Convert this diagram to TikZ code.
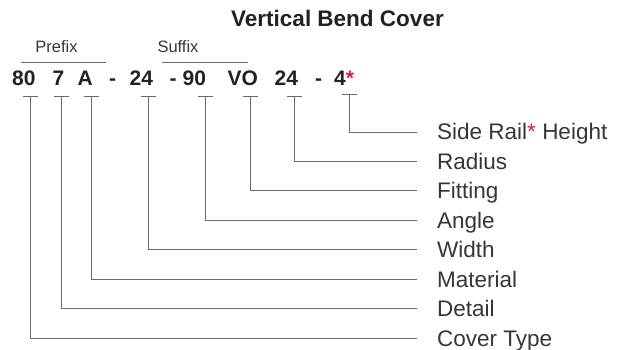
\documentclass[tikz,border=0pt]{standalone}
\usepackage{fontspec}
\setmainfont{Liberation Sans}
\usepackage{tikz}
\definecolor{inkdark}{HTML}{222222}
\definecolor{labelgray}{HTML}{363636}
\definecolor{linegray}{HTML}{6A6A6A}
\definecolor{starred}{HTML}{D81B4F}

\begin{document}
\begin{tikzpicture}[x=1pt,y=-1pt,
  code/.style={anchor=base west,inner sep=0,text=inkdark,font=\bfseries\fontsize{21}{21}\selectfont},
  part/.style={anchor=base,inner sep=0,text=labelgray,font=\fontsize{16.5}{16.5}\selectfont},
  lbl/.style={anchor=west,inner sep=0,text height=16pt,text depth=0pt,text=labelgray,font=\fontsize{22.5}{22.5}\selectfont},
  leader/.style={draw=linegray,line width=0.85pt}]
  \useasboundingbox (0,0) rectangle (622,350);
  \node[anchor=base,inner sep=0,text=inkdark,font=\bfseries\fontsize{22.5}{22.5}\selectfont] (title) at (337.5,27) {Vertical Bend Cover};
  \node[part] (prefix) at (56.5,53) {Prefix};
  \node[part] (suffix) at (178,53) {Suffix};
  \draw[leader] (21,62.5)--(106,62.5);
  \draw[leader] (162,62.5)--(248,62.5);
  \node[code] (ctype) at (12,86) {80};
  \node[code] (cdetail) at (52.5,86) {7};
  \node[code] (cmat) at (77.5,86) {A};
  \node[code] at (109,86) {-};
  \node[code] (cwidth) at (129.5,86) {24};
  \node[code] at (169.5,86) {-};
  \node[code] (cangle) at (182.5,86) {90};
  \node[code] (cfit) at (227.5,86) {VO};
  \node[code] (crad) at (274.5,86) {24};
  \node[code] at (315,86) {-};
  \node[code] (crail) at (334,86) {4\textcolor{starred}{*}};
  \node[lbl] (rail) at (437,132) {Side Rail\textcolor{starred}{*} Height};
  \node[lbl] (radius) at (437,161.4) {Radius};
  \node[lbl] (fitting) at (437,190.9) {Fitting};
  \node[lbl] (angle) at (437,220.3) {Angle};
  \node[lbl] (width) at (437,249.7) {Width};
  \node[lbl] (material) at (437,279.1) {Material};
  \node[lbl] (detail) at (437,308.6) {Detail};
  \node[lbl] (covertype) at (437,338) {Cover Type};
  \coordinate (t1) at (30,96);
  \coordinate (t2) at (61,96);
  \coordinate (t3) at (91,96);
  \coordinate (t4) at (148,96);
  \coordinate (t5) at (205,96);
  \coordinate (t6) at (250,96);
  \coordinate (t7) at (294,96);
  \coordinate (t8) at (349,94);
  \draw[leader] ([xshift=-7.5pt]t1)--([xshift=7.5pt]t1) (t1) |- ([xshift=-20pt]covertype.west);
  \draw[leader] ([xshift=-7.5pt]t2)--([xshift=7.5pt]t2) (t2) |- ([xshift=-20pt]detail.west);
  \draw[leader] ([xshift=-7.5pt]t3)--([xshift=7.5pt]t3) (t3) |- ([xshift=-20pt]material.west);
  \draw[leader] ([xshift=-7.5pt]t4)--([xshift=7.5pt]t4) (t4) |- ([xshift=-20pt]width.west);
  \draw[leader] ([xshift=-7.5pt]t5)--([xshift=7.5pt]t5) (t5) |- ([xshift=-20pt]angle.west);
  \draw[leader] ([xshift=-7.5pt]t6)--([xshift=7.5pt]t6) (t6) |- ([xshift=-20pt]fitting.west);
  \draw[leader] ([xshift=-7.5pt]t7)--([xshift=7.5pt]t7) (t7) |- ([xshift=-20pt]radius.west);
  \draw[leader] ([xshift=-7.5pt]t8)--([xshift=7.5pt]t8) (t8) |- ([xshift=-20pt]rail.west);
\end{tikzpicture}
\end{document}
